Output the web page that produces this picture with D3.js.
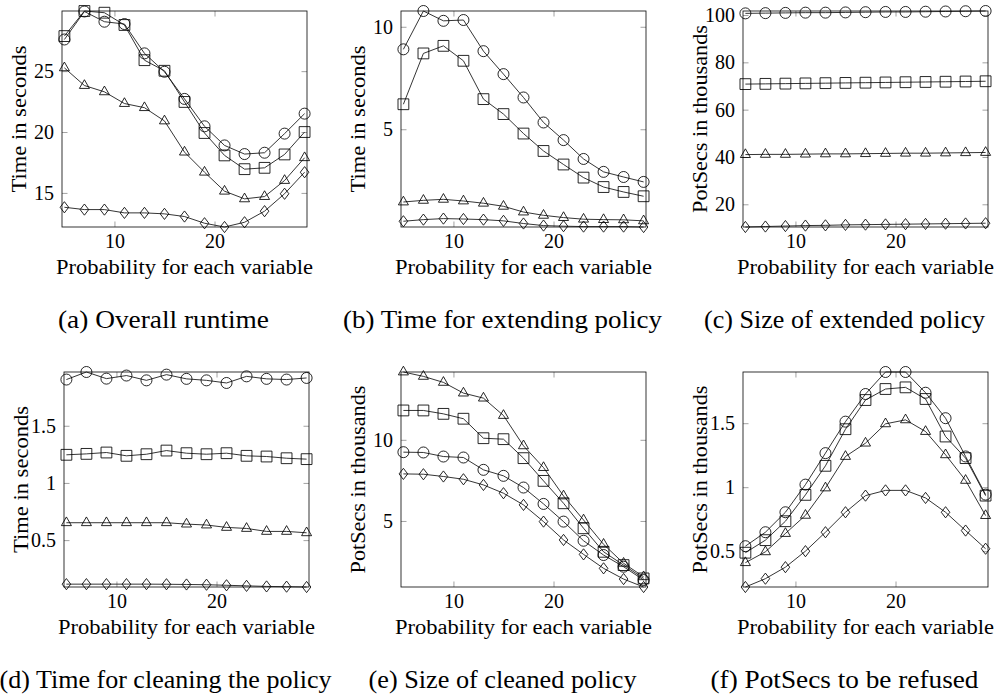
<!DOCTYPE html>
<html>
<head>
<meta charset="utf-8">
<script src="https://cdn.jsdelivr.net/npm/d3@7"></script>
<style>
  body { margin: 0; background: #fff; }
  svg text { font-family: "Liberation Serif", "DejaVu Serif", "Noto Serif", "Times New Roman", serif; fill: #000; }
</style>
</head>
<body>
<svg id="fig" width="996" height="699"></svg>
<script>
// Probability for each variable (shared x values of every panel)
const probabilities = [5, 7, 9, 11, 13, 15, 17, 19, 21, 23, 25, 27, 29];
const xTickValues = [10, 20];

// (a) Overall runtime, seconds
const overallCircle   = [27.6, 29.9, 29.06, 28.87, 26.46, 24.95, 22.72, 20.47, 18.9, 18.19, 18.3, 19.87, 21.51];
const overallSquare   = [27.88, 29.94, 29.8, 28.79, 25.9, 25.03, 22.47, 19.92, 18.08, 16.95, 17.06, 18.16, 20.0];
const overallTriangle = [25.27, 23.82, 23.3, 22.34, 22.0, 20.91, 18.35, 16.7, 15.14, 14.51, 14.7, 16.02, 17.89];
const overallDiamond  = [13.82, 13.63, 13.63, 13.36, 13.36, 13.28, 13.06, 12.51, 12.2, 12.59, 13.5, 14.93, 16.7];
const overallTicks    = [15, 20, 25];

// (b) Time for extending policy, seconds
const extendCircle   = [8.9, 10.77, 10.29, 10.33, 8.81, 7.69, 6.55, 5.33, 4.47, 3.55, 2.92, 2.67, 2.43];
const extendSquare   = [6.22, 8.7, 9.07, 8.34, 6.47, 5.74, 4.79, 3.94, 3.28, 2.64, 2.18, 1.94, 1.73];
const extendTriangle = [1.45, 1.53, 1.58, 1.5, 1.39, 1.24, 0.96, 0.8, 0.69, 0.61, 0.59, 0.58, 0.53];
const extendDiamond  = [0.51, 0.59, 0.64, 0.62, 0.59, 0.53, 0.4, 0.3, 0.27, 0.25, 0.25, 0.25, 0.23];
const extendTicks    = [5, 10];

// (c) Size of extended policy, PotSecs in thousands
const extSizeCircle   = [100.7, 100.8, 100.9, 101.0, 101.0, 101.1, 101.2, 101.3, 101.3, 101.4, 101.5, 101.6, 101.7];
const extSizeSquare   = [70.8, 70.9, 71.0, 71.1, 71.2, 71.3, 71.4, 71.5, 71.6, 71.7, 71.8, 71.9, 72.0];
const extSizeTriangle = [41.0, 41.1, 41.1, 41.2, 41.3, 41.3, 41.4, 41.5, 41.6, 41.6, 41.7, 41.8, 41.9];
const extSizeDiamond  = [10.4, 10.6, 10.8, 11.0, 11.1, 11.3, 11.4, 11.5, 11.6, 11.7, 11.8, 11.9, 12.0];
const extSizeTicks    = [20, 40, 60, 80, 100];

// (d) Time for cleaning the policy, seconds
const cleanTimeCircle   = [1.904, 1.97, 1.912, 1.939, 1.897, 1.947, 1.91, 1.897, 1.874, 1.932, 1.91, 1.904, 1.918];
const cleanTimeSquare   = [1.246, 1.254, 1.266, 1.237, 1.251, 1.283, 1.26, 1.251, 1.26, 1.237, 1.231, 1.216, 1.208];
const cleanTimeTriangle = [0.652, 0.652, 0.652, 0.652, 0.652, 0.652, 0.64, 0.632, 0.611, 0.602, 0.576, 0.576, 0.564];
const cleanTimeDiamond  = [0.115, 0.115, 0.115, 0.115, 0.115, 0.114, 0.112, 0.11, 0.105, 0.1, 0.095, 0.093, 0.09];
const cleanTimeTicks    = [0.5, 1, 1.5];

// (e) Size of cleaned policy, PotSecs in thousands
const cleanSizeCircle   = [9.24, 9.22, 8.97, 8.91, 8.15, 7.78, 7.06, 6.05, 4.96, 3.78, 2.9, 2.18, 1.36];
const cleanSizeSquare   = [11.81, 11.81, 11.6, 11.3, 10.1, 10.04, 8.87, 7.47, 6.09, 4.55, 3.1, 2.28, 1.46];
const cleanSizeTriangle = [14.18, 13.91, 13.54, 12.88, 12.57, 11.5, 9.63, 8.29, 6.54, 5.06, 3.56, 2.39, 1.56];
const cleanSizeDiamond  = [7.9, 7.88, 7.74, 7.57, 7.22, 6.71, 5.99, 4.96, 3.83, 2.94, 2.08, 1.42, 0.93];
const cleanSizeTicks    = [5, 10];

// (f) PotSecs to be refused, in thousands
const refusedCircle   = [0.539, 0.648, 0.804, 1.02, 1.266, 1.512, 1.728, 1.9, 1.9, 1.738, 1.539, 1.24, 0.942];
const refusedSquare   = [0.488, 0.586, 0.734, 0.94, 1.167, 1.453, 1.681, 1.767, 1.78, 1.689, 1.396, 1.227, 0.934];
const refusedTriangle = [0.41, 0.495, 0.638, 0.78, 0.994, 1.24, 1.344, 1.495, 1.526, 1.435, 1.253, 1.053, 0.778];
const refusedDiamond  = [0.22, 0.285, 0.375, 0.5, 0.648, 0.804, 0.934, 0.975, 0.975, 0.916, 0.804, 0.661, 0.519];
const refusedTicks    = [0.5, 1, 1.5];

const xLabel = "Probability for each variable";
const captions = [
  "(a) Overall runtime", "(b) Time for extending policy", "(c) Size of extended policy",
  "(d) Time for cleaning the policy", "(e) Size of cleaned policy", "(f) PotSecs to be refused"
];
const yLabels = [
  "Time in seconds", "Time in seconds", "PotSecs in thousands",
  "Time in seconds", "PotSecs in thousands", "PotSecs in thousands"
];

const panels = [
  { series: [overallCircle, overallSquare, overallTriangle, overallDiamond], ticks: overallTicks, left: 62, top: 11, h: 216 },
  { series: [extendCircle, extendSquare, extendTriangle, extendDiamond], ticks: extendTicks, left: 401, top: 11, h: 216 },
  { series: [extSizeCircle, extSizeSquare, extSizeTriangle, extSizeDiamond], ticks: extSizeTicks, left: 743, top: 11, h: 216 },
  { series: [cleanTimeCircle, cleanTimeSquare, cleanTimeTriangle, cleanTimeDiamond], ticks: cleanTimeTicks, left: 64, top: 372, h: 215 },
  { series: [cleanSizeCircle, cleanSizeSquare, cleanSizeTriangle, cleanSizeDiamond], ticks: cleanSizeTicks, left: 401, top: 372, h: 215 },
  { series: [refusedCircle, refusedSquare, refusedTriangle, refusedDiamond], ticks: refusedTicks, left: 743, top: 372, h: 215 }
];

const W = 245;
const TICK = 5.5;
const LINE_W = 0.85;
const FONT = '"Liberation Serif", "DejaVu Serif", "Noto Serif", "Times New Roman", serif';

// Hollow marks: circle, square, triangle, diamond
const markCircle = d3.symbol().type(d3.symbolCircle).size(Math.PI * 5.5 * 5.5);
const markSquare = d3.symbol().type({ draw(c) { const s = 5.4; c.rect(-s, -s, 2 * s, 2 * s); } });
const markTriangle = d3.symbol().type({ draw(c) {
  const r = 5.8;
  c.moveTo(0, -r); c.lineTo(0.866 * r, 0.5 * r); c.lineTo(-0.866 * r, 0.5 * r); c.closePath();
} });
const markDiamond = d3.symbol().type({ draw(c) {
  c.moveTo(0, -5.6); c.lineTo(4.3, 0); c.lineTo(0, 5.6); c.lineTo(-4.3, 0); c.closePath();
} });
const marks = [markCircle, markSquare, markTriangle, markDiamond];

const svg = d3.select("#fig");
const fmt = d => String(d);

// stretch a text to a given width so its proportions follow the typeset labels
function fitWidth(sel, width) {
  sel.attr("textLength", width).attr("lengthAdjust", "spacingAndGlyphs");
}
const captionWidths = [211, 319, 281, 332, 268, 268];

panels.forEach((p, k) => {
  const g = svg.append("g").attr("transform", `translate(${p.left},${p.top})`);
  const x = d3.scaleLinear().domain([4.76, 29.24]).range([0, W]);
  const y = d3.scaleLinear().domain(d3.extent(p.series.flat())).range([p.h, 0]);

  const styleAxis = a => {
    a.select(".domain").remove();
    a.selectAll(".tick line").attr("stroke", "#8a8a8a").attr("stroke-width", 0.8);
    a.attr("font-size", 20).attr("font-family", FONT);
  };

  g.append("g").attr("transform", `translate(0,${p.h})`)
    .call(d3.axisBottom(x).tickValues(xTickValues).tickSize(-TICK).tickPadding(6.3).tickFormat(fmt))
    .call(styleAxis);
  g.append("g")
    .call(d3.axisTop(x).tickValues(xTickValues).tickSize(-TICK).tickFormat(""))
    .call(styleAxis);
  g.append("g")
    .call(d3.axisLeft(y).tickValues(p.ticks).tickSize(-TICK).tickPadding(8).tickFormat(fmt))
    .call(styleAxis);
  g.append("g").attr("transform", `translate(${W},0)`)
    .call(d3.axisRight(y).tickValues(p.ticks).tickSize(-TICK).tickFormat(""))
    .call(styleAxis);

  g.append("rect")
    .attr("x", 0).attr("y", 0).attr("width", W).attr("height", p.h)
    .attr("fill", "none").attr("stroke", "#111").attr("stroke-width", LINE_W);

  const line = d3.line().x((d, i) => x(probabilities[i])).y(d => y(d));

  p.series.forEach((vals, s) => {
    g.append("path").datum(vals)
      .attr("d", line)
      .attr("fill", "none").attr("stroke", "#111").attr("stroke-width", LINE_W);
    g.append("g").selectAll("path").data(vals).join("path")
      .attr("transform", (d, i) => `translate(${x(probabilities[i])},${y(d)})`)
      .attr("d", marks[s]())
      .attr("fill", "none").attr("stroke", "#000").attr("stroke-width", LINE_W);
  });

  // axis titles
  const xl = g.append("text")
    .attr("x", W / 2).attr("y", p.h + 47)
    .attr("text-anchor", "middle").attr("font-size", 20.5).attr("font-family", FONT)
    .text(xLabel);
  fitWidth(xl, 257);

  const yl = g.append("text")
    .attr("transform", `translate(-36,${p.h / 2}) rotate(-90)`)
    .attr("text-anchor", "middle").attr("font-size", 20.5).attr("font-family", FONT)
    .text(yLabels[k]);
  fitWidth(yl, yLabels[k].startsWith("Time") ? 147 : 188);

  // sub-caption under each panel
  const cap = svg.append("text")
    .attr("x", p.left + W / 2 - 21).attr("y", p.top + p.h + 100.5)
    .attr("text-anchor", "middle").attr("font-size", 24.5).attr("font-family", FONT)
    .text(captions[k]);
  fitWidth(cap, captionWidths[k]);
});
</script>
</body>
</html>
